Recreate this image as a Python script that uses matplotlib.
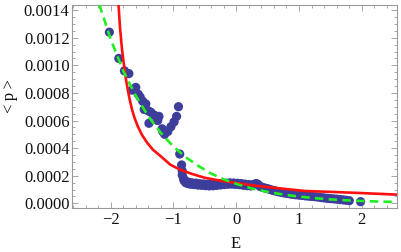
import matplotlib
matplotlib.use("Agg")
import matplotlib.pyplot as plt
from matplotlib.ticker import MultipleLocator, FormatStrFormatter

# ---- data ----
scatter_E = [-2.02, -1.87, -1.78, -1.71, -1.66, -1.60, -1.56, -1.53, -1.49, -1.44,
             -1.465, -1.40, -1.36, -1.39, -1.31, -1.28, -1.23, -1.25, -1.18, -1.09,
             -1.17, -1.14, -1.04, -0.99, -0.95, -0.92,
             -0.90, -0.87, -0.86, -0.86, -0.84, -0.83]
scatter_p = [0.00124, 0.00105, 0.00096, 0.00094, 0.00082, 0.00084, 0.00079, 0.00077, 0.00074, 0.00072,
             0.00068, 0.00067, 0.00066, 0.00058, 0.00064, 0.00063, 0.00063, 0.00060, 0.00054, 0.00052,
             0.00052, 0.00050, 0.000555, 0.00059, 0.00063, 0.00070,
             0.000357, 0.000278, 0.000235, 0.000205, 0.00018, 0.000165]

band_E = [-0.82, -0.80, -0.78, -0.76, -0.74, -0.72, -0.70, -0.67, -0.64, -0.61,
          -0.58, -0.55, -0.52, -0.49, -0.46, -0.43, -0.40, -0.37, -0.34, -0.31,
          -0.28, -0.25, -0.22, -0.19, -0.16, -0.13, -0.10, -0.07, -0.04, -0.01,
          0.02, 0.05, 0.08, 0.11, 0.14, 0.17, 0.20, 0.23, 0.26, 0.29,
          0.32, 0.35, 0.38, 0.42, 0.46, 0.50, 0.54, 0.58, 0.62, 0.66,
          0.70, 0.74, 0.78, 0.82, 0.86, 0.90, 0.95, 1.00, 1.05, 1.10,
          1.15, 1.20, 1.25, 1.30, 1.35, 1.40, 1.45, 1.50, 1.55, 1.60,
          1.65, 1.70, 1.75, 1.80, 1.98]
band_p = [0.000160, 0.000148, 0.000156, 0.000142, 0.000150, 0.000138, 0.000148, 0.000136, 0.000146, 0.000132,
          0.000142, 0.000130, 0.000140, 0.000128, 0.000138, 0.000126, 0.000137, 0.000127, 0.000139, 0.000130,
          0.000141, 0.000133, 0.000143, 0.000136, 0.000146, 0.000138, 0.000148, 0.000139, 0.000147, 0.000137,
          0.000145, 0.000135, 0.000143, 0.000131, 0.000139, 0.000128, 0.000136, 0.000126, 0.000134, 0.000138,
          0.000143, 0.000136, 0.000122, 0.000115, 0.000110, 0.000106, 0.000100, 0.000094, 0.000090, 0.000085,
          0.000081, 0.000077, 0.000074, 0.000071, 0.000068, 0.000065, 0.000062, 0.000059, 0.000057, 0.000054,
          0.000052, 0.000050, 0.000048, 0.000045, 0.000042, 0.000039, 0.000036, 0.000034, 0.000032, 0.000030,
          0.000027, 0.000025, 0.000022, 0.000019, 0.000012]

red_E = [-1.875, -1.85, -1.82, -1.79, -1.76, -1.73, -1.70, -1.66, -1.62, -1.57,
         -1.50, -1.42, -1.33, -1.20, -1.05, -0.90, -0.70, -0.50, -0.25, 0.0,
         0.30, 0.70, 1.10, 1.50, 2.00, 2.56]
red_p = [0.00144, 0.00127, 0.00112, 0.00101, 0.00091, 0.00083, 0.00076, 0.00068, 0.00062, 0.00056,
         0.000495, 0.00044, 0.00039, 0.00034, 0.00028, 0.000245, 0.000212, 0.000185, 0.000164, 0.000147,
         0.000128, 0.000108, 0.000089, 0.000083, 0.000074, 0.000063]

green_E = [-2.18, -2.0, -1.8, -1.6, -1.4, -1.2, -1.0, -0.8, -0.6, -0.4,
           -0.2, 0.0, 0.25, 0.5, 0.75, 1.0, 1.25, 1.5, 1.75, 2.0, 2.3, 2.56]
green_p = [0.00144, 0.00119, 0.00096, 0.00078, 0.00063, 0.00051, 0.000411, 0.000333, 0.000270, 0.000216,
           0.000174, 0.000141, 0.000107, 0.0000825, 0.0000632, 0.0000485, 0.0000372, 0.0000285, 0.0000218, 0.0000168,
           0.0000122, 0.0000095]

x_label = "E"
y_label = "<\u2009p\u2009>"

# ---- figure ----
serif = ["Liberation Serif", "DejaVu Serif"]
plt.rcParams["font.family"] = serif

W, H = 402, 252
fig = plt.figure(figsize=(W / 100, H / 100), dpi=100)
ax = fig.add_axes([71.7 / W, 1 - 208.3 / H, (397 - 71.7) / W, (208.3 - 5) / H])

frame_col = "#999999"
text_col = "#111111"
fs = 12

ax.scatter(scatter_E + band_E, scatter_p + band_p, s=44, color="#3d3d9c",
           edgecolors="none", zorder=2, clip_on=False)
ax.plot(red_E, red_p, color="#ff1010", lw=1.9, zorder=3, solid_joinstyle="round")
ax.plot(green_E, green_p, color="#22ee22", lw=1.9, ls=(0, (3.2, 2.0)), zorder=4)

ax.set_xlim(-2.62, 2.56)
ax.set_ylim(-0.0000362, 0.001437)

ax.xaxis.set_major_locator(MultipleLocator(1))
ax.xaxis.set_minor_locator(MultipleLocator(0.2))
ax.yaxis.set_major_locator(MultipleLocator(0.0002))
ax.yaxis.set_minor_locator(MultipleLocator(0.00005))
ax.yaxis.set_major_formatter(FormatStrFormatter("%.4f"))

ax.tick_params(which="both", direction="in", top=True, right=True,
               color=frame_col, width=0.6, labelsize=fs, labelcolor=text_col)
ax.tick_params(axis="y", pad=1.5)
ax.tick_params(axis="x", pad=3)
ax.tick_params(which="major", length=4)
ax.tick_params(which="minor", length=2)

for sp in ax.spines.values():
    sp.set_color(frame_col)
    sp.set_linewidth(0.8)

fig.text(236 / W, 1 - 244 / H, x_label, ha="center", va="center", fontsize=fs,
         color=text_col)
fig.text(10 / W, 1 - 96 / H, y_label, ha="center", va="center", fontsize=fs,
         rotation=90, color=text_col)

fig.savefig("out.png", dpi=100)
